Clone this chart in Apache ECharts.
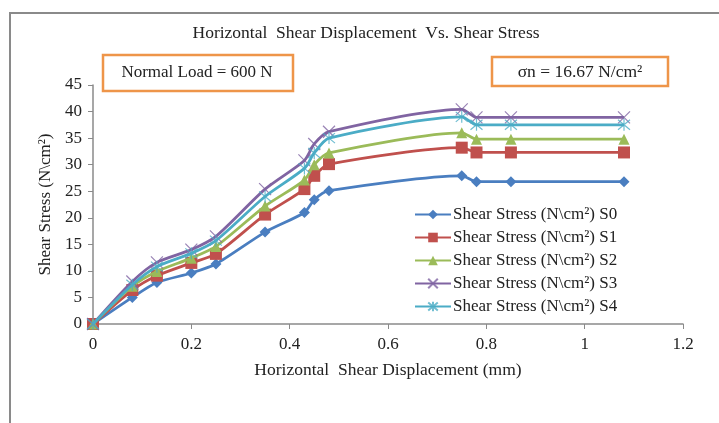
<!DOCTYPE html>
<html>
<head>
<meta charset="utf-8">
<script src="https://cdn.jsdelivr.net/npm/echarts@6/dist/echarts.min.js"></script>
<style>
  html, body { margin: 0; padding: 0; background: #fff; }
  #chart { width: 719px; height: 423px; }
</style>
</head>
<body>
<div id="chart"></div>
<script>
// Horizontal displacement (mm) at each reading
const displacement = [0, 0.08, 0.13, 0.2, 0.25, 0.35, 0.43, 0.45, 0.48, 0.75, 0.78, 0.85, 1.08];

// Shear stress (N/cm²) for each specimen
const stressS0 = [0, 5.0, 7.8, 9.6, 11.3, 17.3, 21.0, 23.4, 25.1, 27.9, 26.8, 26.8, 26.8];
const stressS1 = [0, 6.4, 9.1, 11.5, 13.2, 20.6, 25.4, 27.9, 30.1, 33.2, 32.3, 32.3, 32.3];
const stressS2 = [0, 7.1, 9.9, 12.4, 14.6, 22.2, 27.1, 30.0, 32.2, 36.0, 34.8, 34.8, 34.8];
const stressS3 = [0, 8.0, 11.6, 14.0, 16.5, 25.4, 30.8, 33.9, 36.2, 40.4, 38.9, 38.9, 38.9];
const stressS4 = [0, 7.4, 10.8, 13.3, 15.7, 24.0, 29.3, 32.2, 35.0, 39.0, 37.5, 37.5, 37.5];

const seriesNames = [
  'Shear Stress (N\\cm²) S0',
  'Shear Stress (N\\cm²) S1',
  'Shear Stress (N\\cm²) S2',
  'Shear Stress (N\\cm²) S3',
  'Shear Stress (N\\cm²) S4'
];

const yTicks = { min: 0, max: 45, interval: 5 };
const xTicks = { min: 0, max: 1.2, interval: 0.2 };

const titleText = 'Horizontal  Shear Displacement  Vs. Shear Stress';
const loadText = 'Normal Load = 600 N';
const sigmaText = 'σn = 16.67 N/cm²';

const SERIF = '"Liberation Serif", "DejaVu Serif", serif';
const colors = ['#4A7EC0', '#C0504D', '#9BBB59', '#8064A2', '#4BACC6'];

// open-stroke marker shapes
const crossPath = 'path://M0,0L10,10M10,0L0,10';
const starPath = 'path://M0,0L10,10M10,0L0,10M5,-1L5,11';

function pairs(ys) {
  return displacement.map((x, i) => [x, ys[i]]);
}

const markerDefs = [
  { symbol: 'diamond', size: 11, stroke: false },
  { symbol: 'rect', size: 12, stroke: false },
  { symbol: 'triangle', size: 11, stroke: false },
  { symbol: crossPath, size: 12, stroke: true },
  { symbol: starPath, size: 12, stroke: true }
];

const allStress = [stressS0, stressS1, stressS2, stressS3, stressS4];

const series = allStress.map((ys, i) => {
  const m = markerDefs[i];
  return {
    name: seriesNames[i],
    type: 'line',
    data: pairs(ys),
    smooth: 0.25,
    symbol: m.symbol,
    symbolSize: m.size,
    showAllSymbol: true,
    lineStyle: { color: colors[i], width: 2.8 },
    itemStyle: m.stroke
      ? { color: colors[i], borderColor: colors[i], borderWidth: 1.2, opacity: 0.8 }
      : { color: colors[i], borderWidth: 0 },
    emphasis: { disabled: true },
    z: 2 + i
  };
});

const chart = echarts.init(document.getElementById('chart'), null, { renderer: 'canvas' });

chart.setOption({
  animation: false,
  backgroundColor: '#fff',
  color: colors,
  grid: { left: 93, right: 36, top: 85, bottom: 99, containLabel: false },
  xAxis: {
    type: 'value',
    min: xTicks.min,
    max: xTicks.max,
    interval: xTicks.interval,
    name: 'Horizontal  Shear Displacement (mm)',
    nameLocation: 'middle',
    nameGap: 37,
    nameTextStyle: { fontFamily: SERIF, fontSize: 17.5, color: '#222' },
    axisLine: { show: true, lineStyle: { color: '#8a8a8a', width: 1.5 } },
    axisTick: { show: true, inside: false, length: 5, lineStyle: { color: '#8a8a8a' } },
    axisLabel: { fontFamily: SERIF, fontSize: 17, color: '#222', margin: 12 },
    splitLine: { show: false }
  },
  yAxis: {
    type: 'value',
    min: yTicks.min,
    max: yTicks.max,
    interval: yTicks.interval,
    name: 'Shear Stress (N\\cm²)',
    nameLocation: 'middle',
    nameGap: 38,
    nameRotate: 90,
    nameTextStyle: { fontFamily: SERIF, fontSize: 17, color: '#222' },
    axisLine: { show: true, lineStyle: { color: '#8a8a8a', width: 1.5 } },
    axisTick: { show: true, inside: false, length: 5, lineStyle: { color: '#8a8a8a' } },
    axisLabel: { fontFamily: SERIF, fontSize: 17, color: '#222', margin: 11 },
    splitLine: { show: false }
  },
  legend: {
    orient: 'vertical',
    left: 414,
    top: 206,
    itemWidth: 36,
    itemHeight: 12,
    itemGap: 6,
    padding: 0,
    data: seriesNames,
    textStyle: { fontFamily: SERIF, fontSize: 17, color: '#222', lineHeight: 17, padding: [0, 0, 0, -3] }
  },
  graphic: [
    {
      type: 'rect',
      shape: { x: 10, y: 13, width: 760, height: 460 },
      style: { fill: 'none', stroke: '#8a8a8a', lineWidth: 2 },
      silent: true,
      z: 0
    },
    {
      type: 'text',
      x: 366,
      y: 33,
      style: {
        text: titleText,
        font: '17.5px ' + SERIF,
        fill: '#222',
        align: 'center',
        verticalAlign: 'middle'
      }
    },
    {
      type: 'rect',
      shape: { x: 103, y: 55, width: 190, height: 36 },
      style: { fill: '#fff', stroke: '#EE9549', lineWidth: 2.5 }
    },
    {
      type: 'text',
      x: 197,
      y: 73,
      style: {
        text: loadText,
        font: '17px ' + SERIF,
        fill: '#222',
        align: 'center',
        verticalAlign: 'middle'
      }
    },
    {
      type: 'rect',
      shape: { x: 492, y: 57, width: 176, height: 29 },
      style: { fill: '#fff', stroke: '#EE9549', lineWidth: 2.5 }
    },
    {
      type: 'text',
      x: 580,
      y: 72,
      style: {
        text: sigmaText,
        font: '17.5px ' + SERIF,
        fill: '#222',
        align: 'center',
        verticalAlign: 'middle'
      }
    }
  ],
  series: series
});
</script>
</body>
</html>
